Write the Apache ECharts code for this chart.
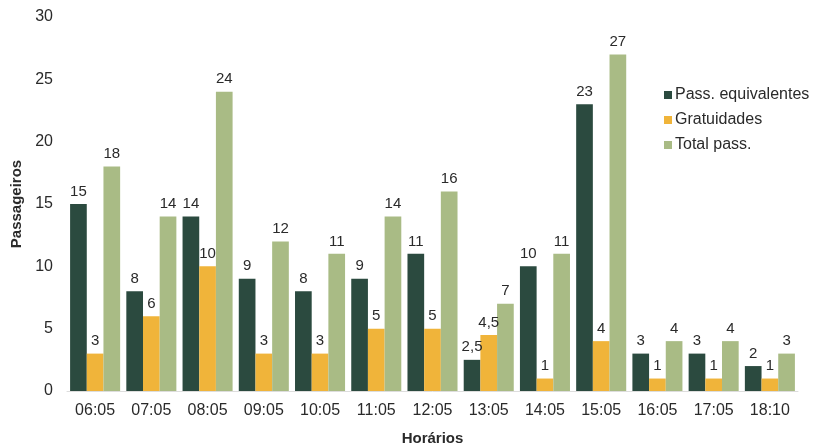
<!DOCTYPE html>
<html>
<head>
<meta charset="utf-8">
<script src="https://cdn.jsdelivr.net/npm/echarts@6/dist/echarts.min.js"></script>
<style>
  html, body { margin: 0; padding: 0; background: #fff; }
  #chart { width: 817px; height: 445px; }
</style>
</head>
<body>
<div id="chart"></div>
<script>
var horarios = ['06:05', '07:05', '08:05', '09:05', '10:05', '11:05', '12:05', '13:05', '14:05', '15:05', '16:05', '17:05', '18:10'];
var passEquivalentes = [15, 8, 14, 9, 8, 9, 11, 2.5, 10, 23, 3, 3, 2];
var gratuidades = [3, 6, 10, 3, 3, 5, 5, 4.5, 1, 4, 1, 1, 1];
var totalPass = [18, 14, 24, 12, 11, 14, 16, 7, 11, 27, 4, 4, 3];

var chart = echarts.init(document.getElementById('chart'));

function fmt(p) {
  return String(p.value).replace('.', ',');
}

var labelOpt = {
  show: true,
  position: 'top',
  distance: 5,
  color: '#2a2a2a',
  fontSize: 15,
  formatter: fmt
};

var option = {
  animation: false,
  textStyle: { fontFamily: 'Liberation Sans, Arial, sans-serif' },
  grid: { left: 67, right: 19, top: 17, bottom: 54, outerBoundsMode: 'none' },
  legend: {
    orient: 'vertical',
    left: 659,
    top: 82,
    itemWidth: 8,
    itemHeight: 8,
    itemGap: 9,
    icon: 'rect',
    textStyle: { color: '#2a2a2a', fontSize: 16, padding: [0, 0, 0, -2] },
    data: ['Pass. equivalentes', 'Gratuidades', 'Total pass.']
  },
  xAxis: {
    type: 'category',
    data: horarios,
    name: 'Horários',
    nameLocation: 'middle',
    nameGap: 40,
    nameTextStyle: { fontWeight: 'bold', color: '#2a2a2a', fontSize: 15 },
    axisLine: { show: true, lineStyle: { color: '#ddd' } },
    axisTick: { show: false },
    axisLabel: { color: '#2a2a2a', fontSize: 16, margin: 12 }
  },
  yAxis: {
    type: 'value',
    min: 0,
    max: 30,
    interval: 5,
    name: 'Passageiros',
    nameLocation: 'middle',
    nameGap: 41,
    nameTextStyle: { fontWeight: 'bold', color: '#2a2a2a', fontSize: 15 },
    axisLine: { show: false },
    axisTick: { show: false },
    splitLine: { show: false },
    axisLabel: { color: '#2a2a2a', fontSize: 16, margin: 14 }
  },
  series: [
    {
      name: 'Pass. equivalentes',
      type: 'bar',
      data: passEquivalentes,
      barGap: '0%',
      barCategoryGap: '11%',
      itemStyle: { color: '#2b4a3f' },
      label: labelOpt
    },
    {
      name: 'Gratuidades',
      type: 'bar',
      data: gratuidades,
      itemStyle: { color: '#f0b43a' },
      label: labelOpt
    },
    {
      name: 'Total pass.',
      type: 'bar',
      data: totalPass,
      itemStyle: { color: '#a9bb85' },
      label: labelOpt
    }
  ]
};

option && chart.setOption(option);
</script>
</body>
</html>
